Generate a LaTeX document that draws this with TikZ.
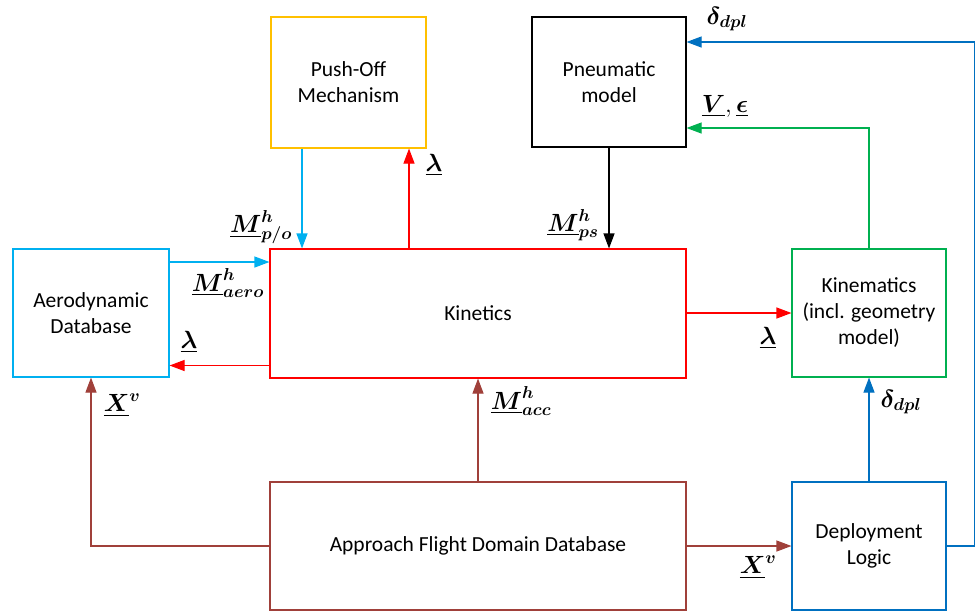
\documentclass[tikz,border=0pt]{standalone}
\usepackage{amsmath,bm}
\usepackage{fontspec}
\setmainfont{Carlito}
\usetikzlibrary{arrows.meta}
\definecolor{cyanc}{HTML}{00B0F0}
\definecolor{orangec}{HTML}{FFC000}
\definecolor{redc}{HTML}{FF0000}
\definecolor{greenc}{HTML}{00B050}
\definecolor{bluec}{HTML}{0070C0}
\definecolor{brownc}{HTML}{A0403A}
\newcommand{\ub}[1]{\underline{\bm{#1}}}
\tikzset{
  blk/.style={draw, line width=1.1pt, align=center, inner sep=0pt,
    font=\fontsize{21.5}{26}\selectfont},
  conn/.style={line width=1.1pt, -{Triangle[length=15pt,width=11pt]}},
  lbl/.style={inner sep=0pt, font=\fontsize{26}{30}\selectfont},
}
\begin{document}
\begin{tikzpicture}[x=1pt,y=-1pt]
\useasboundingbox (0,0) rectangle (976,611);
% boxes
\node[blk, draw=orangec, minimum width=155pt, minimum height=131pt] (push) at (348.5,82.5) {Push-Off\\Mechanism};
\node[blk, draw=black, minimum width=154pt, minimum height=130pt] (pneu) at (609,82) {Pneumatic\\model};
\node[blk, draw=cyanc, minimum width=156pt, minimum height=128pt] (aero) at (91,313) {Aerodynamic\\Database};
\node[blk, draw=redc, minimum width=416pt, minimum height=129pt] (kin) at (478,313.5) {Kinetics};
\node[blk, draw=greenc, minimum width=154pt, minimum height=128pt] (kinem) at (869,313) {Kinematics\\(incl. geometry\\model)};
\node[blk, draw=brownc, minimum width=416pt, minimum height=128pt] (afd) at (478,546) {Approach Flight Domain Database};
\node[blk, draw=bluec, minimum width=154pt, minimum height=128pt] (dep) at (869,546) {Deployment\\Logic};
% connectors
\draw[conn, cyanc] ([xshift=-46.5pt]push.south) -- ([xshift=-46.5pt]push.south |- kin.north);
\draw[conn, redc] ([xshift=-69pt]kin.north) -- ([xshift=-69pt]kin.north |- push.south);
\draw[conn, black] (pneu.south) -- (pneu.south |- kin.north);
\draw[conn, cyanc] ([yshift=51pt]aero.east) -- ([yshift=51pt]aero.east -| kin.west);
\draw[conn, redc] ([yshift=-52pt]kin.west) -- ([yshift=-52pt]kin.west -| aero.east);
\draw[conn, redc] (kin.east |- kinem.west) -- (kinem.west);
\coordinate (gturn) at ([yshift=-46pt]kinem.north |- pneu.east);
\draw[conn, greenc] (kinem.north) -- (gturn) -- (gturn -| pneu.east);
\coordinate (bturn) at ([xshift=28pt]dep.east);
\coordinate (bturn2) at ([yshift=40pt]bturn |- pneu.east);
\draw[conn, bluec] (dep.east) -- (bturn) -- (bturn2) -- (bturn2 -| pneu.east);
\draw[conn, bluec] (dep.north) -- (kinem.south);
\draw[conn, brownc] (afd.north) -- (kin.south);
\coordinate (brturn) at (aero.south |- afd.west);
\draw[conn, brownc] (afd.west) -- (brturn) -- (aero.south);
\draw[conn, brownc] (afd.east) -- (dep.west);
% labels
\node[lbl] (l1) at (261,227) {$\ub{M}^{\bm{h}}_{\bm{p/o}}$};
\node[lbl] (l2) at (228,283) {$\ub{M}^{\bm{h}}_{\bm{aero}}$};
\node[lbl] (l3) at (189,342) {$\ub{\lambda}$};
\node[lbl] (l4) at (434,165) {$\ub{\lambda}$};
\node[lbl] (l5) at (573,225) {$\ub{M}^{\bm{h}}_{\bm{ps}}$};
\node[lbl] (l6) at (725,106) {$\ub{V}, \ub{\epsilon}$};
\node[lbl] (l7) at (727,19) {$\bm{\delta_{dpl}}$};
\node[lbl] (l8) at (521,401) {$\ub{M}^{\bm{h}}_{\bm{acc}}$};
\node[lbl] (l9) at (901,402) {$\bm{\delta_{dpl}}$};
\node[lbl] (l10) at (758,567) {$\ub{X}^{\bm{v}}$};
\node[lbl] (l11) at (122,405) {$\ub{X}^{\bm{v}}$};
\node[lbl] (l12) at (768,338) {$\ub{\lambda}$};
\end{tikzpicture}
\end{document}
